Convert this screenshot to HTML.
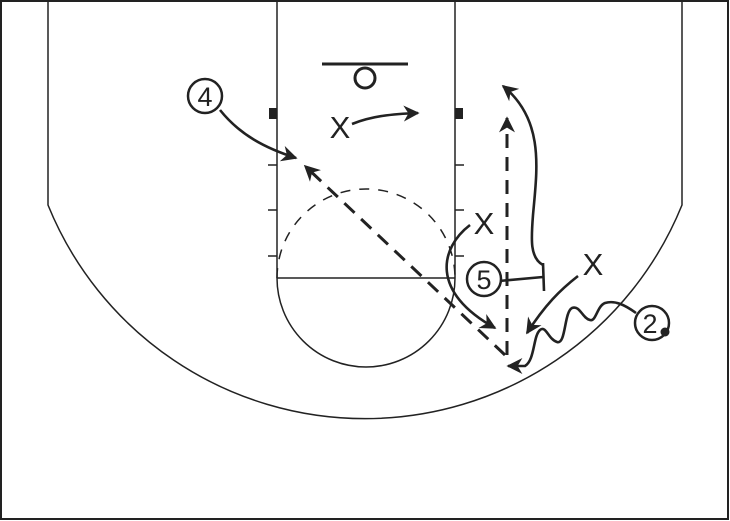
<!DOCTYPE html>
<html><head><style>body{margin:0;background:#fff}svg{display:block}</style></head><body>
<svg width="730" height="521" viewBox="0 0 730 521" xmlns="http://www.w3.org/2000/svg">
<defs>
<marker id="b" viewBox="0 0 10 10" refX="9" refY="5" markerWidth="18" markerHeight="16" orient="auto" markerUnits="userSpaceOnUse"><path d="M0,0 L10,5 L0,10 L3,5 z" fill="#222"/></marker>
</defs>
<g fill="none" stroke="#222" stroke-width="1.5">
<rect x="1" y="1" width="727" height="518" stroke-width="2"/>
<path d="M48,1 L48,205 A342,342 0 0 0 682,205 L682,1"/>
<path d="M277,1 L277,278 M455,1 L455,278 M277,278 L455,278"/>
<path d="M277,278 A89,89 0 0 0 455,278"/>
<path d="M277,278 A89,89 0 0 1 455,278" stroke-dasharray="10,9"/>
<path d="M268,165 H277 M268,210 H277 M268,256 H277 M455,165 H464 M455,210 H464 M455,256 H464"/>
</g>
<rect x="269" y="108" width="8" height="11" fill="#222"/>
<rect x="455" y="108" width="8" height="11" fill="#222"/>
<line x1="322" y1="64" x2="408" y2="64" stroke="#222" stroke-width="3"/>
<circle cx="365" cy="78" r="10" fill="none" stroke="#222" stroke-width="3"/>
<g fill="none" stroke="#222" stroke-width="2.6">
<path d="M220,110 C240,135 265,148 296,158" marker-end="url(#b)"/>
<path d="M352,124 C372,116 392,114 418,113" marker-end="url(#b)"/>
<path d="M505,355 L305,166" stroke-dasharray="14,9" stroke-width="3" marker-end="url(#b)"/>
<path d="M507,355 L507,118" stroke-dasharray="14,9" stroke-width="3" marker-end="url(#b)"/>
<path d="M543,265 C530,258 531,240 533,215 C537,170 545,120 503,86" marker-end="url(#b)"/>
<path d="M499,281 L543,277 M543,263 L544,291"/>
<path d="M470,225 C440,248 430,292 495,328" marker-end="url(#b)"/>
<path d="M578,276 C560,290 545,305 527,333" marker-end="url(#b)"/>
<path d="M636,313 C625,305 615,300 605,303 C597,306 596,322 590,320 C582,318 580,305 572,308 C564,312 566,345 557,342 C548,339 546,325 540,330 C533,336 535,360 525,366 L508,366" marker-end="url(#b)"/>
</g>
<g fill="#fff" stroke="#222" stroke-width="2.5">
<circle cx="205" cy="96" r="17"/>
<circle cx="484" cy="279" r="17"/>
<circle cx="652" cy="323" r="17"/>
</g>
<circle cx="665" cy="332" r="4.5" fill="#222"/>
<g font-family="Liberation Sans, sans-serif" fill="#222" text-anchor="middle">
<text x="205" y="106" font-size="27">4</text>
<text x="484" y="289" font-size="27">5</text>
<text x="650" y="333" font-size="27">2</text>
<text x="340" y="138" font-size="31">X</text>
<text x="484" y="234" font-size="31">X</text>
<text x="593" y="275" font-size="31">X</text>
</g>
</svg>
</body></html>
